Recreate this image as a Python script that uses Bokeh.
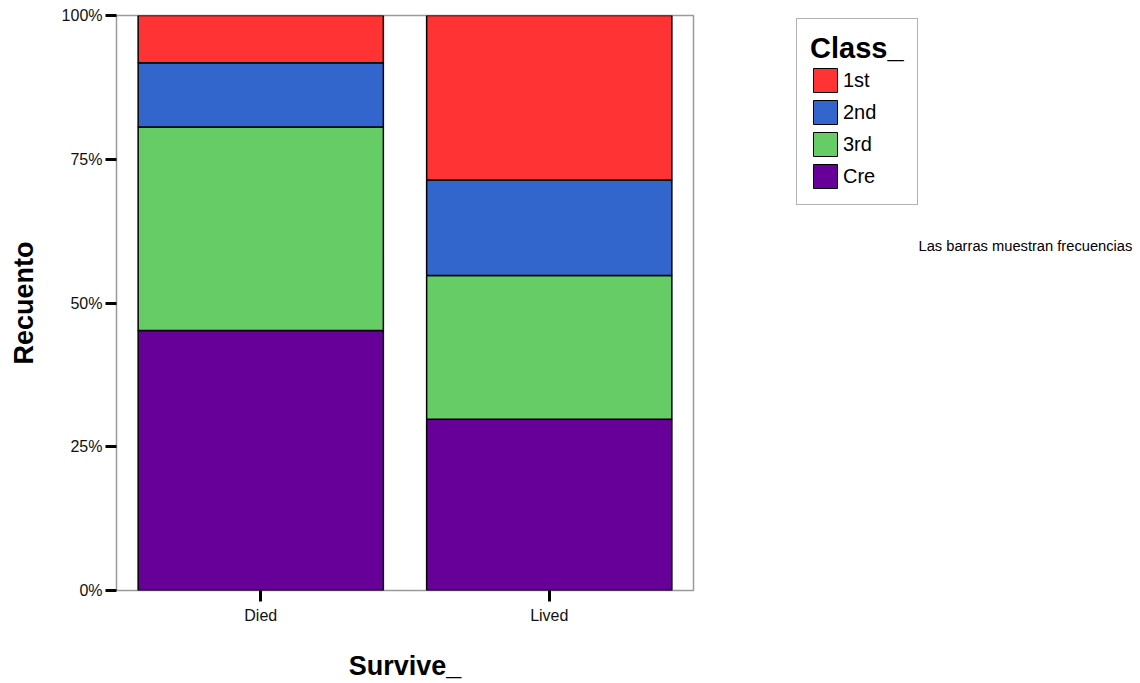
from bokeh.plotting import figure
from bokeh.layouts import row
from bokeh.models import (ColumnDataSource, Range1d, FactorRange, FixedTicker,
                          PrintfTickFormatter, Legend, LegendItem, Label)
from bokeh.embed import file_html
from bokeh.resources import INLINE

# Data (percent of each survival group)
groups = ["Died", "Lived"]
classes = ["1st", "2nd", "3rd", "Cre"]
pct_1st = [8.2, 28.6]
pct_2nd = [11.2, 16.6]
pct_3rd = [35.4, 25.0]
pct_cre = [45.2, 29.8]
y_ticks = [0, 25, 50, 75, 100]

colors = {"1st": "#FF3333", "2nd": "#3366CC", "3rd": "#66CC66", "Cre": "#660099"}

src = ColumnDataSource(dict(g=groups, c1=pct_1st, c2=pct_2nd, c3=pct_3rd, cre=pct_cre))

FONT = "Liberation Sans"
H = 683

p = figure(x_range=FactorRange(*groups, range_padding=0), y_range=Range1d(0, 100),
           width=700, height=H, output_backend="svg", toolbar_location=None,
           min_border_left=116, min_border_top=15, min_border_bottom=93, min_border_right=7)

stack_keys = ["cre", "c3", "c2", "c1"]
stack_cols = [colors["Cre"], colors["3rd"], colors["2nd"], colors["1st"]]
rs = p.vbar_stack(stack_keys, x="g", width=0.85, source=src, color=stack_cols,
                  line_color="black", line_width=1.5)

p.xgrid.visible = False
p.ygrid.visible = False
p.outline_line_color = "#9a9a9a"
p.outline_line_width = 1.5
p.background_fill_color = "white"
p.border_fill_color = "white"

for ax in (p.xaxis[0], p.yaxis[0]):
    ax.axis_line_color = None
    ax.major_tick_line_color = "black"
    ax.major_tick_line_width = 3
    ax.major_tick_in = 0
    ax.major_tick_out = 11
    ax.minor_tick_line_color = None
    ax.major_label_text_font = FONT
    ax.major_label_text_font_size = "16px"
    ax.major_label_text_color = "#111111"
    ax.axis_label_text_font = FONT
    ax.axis_label_text_font_size = "27px"
    ax.axis_label_text_font_style = "bold"
    ax.axis_label_text_color = "black"

p.yaxis[0].ticker = FixedTicker(ticks=y_ticks)
p.yaxis[0].formatter = PrintfTickFormatter(format="%d%%")
p.yaxis[0].major_label_standoff = 3
p.yaxis[0].axis_label = "Recuento"
p.yaxis[0].axis_label_standoff = 20

p.xaxis[0].axis_label = "Survive_"
p.xaxis[0].major_label_standoff = 5
p.xaxis[0].axis_label_standoff = 24

# Side panel holding legend and note (frame aligned with the main frame: y 15..590)
q = figure(x_range=Range1d(0, 1), y_range=Range1d(0, 1), width=440, height=H,
           output_backend="svg", toolbar_location=None,
           min_border_left=0, min_border_right=0, min_border_top=15, min_border_bottom=93)
q.axis.visible = False
q.grid.visible = False
q.outline_line_color = None

# legend proxies: tiny swatches hidden underneath the (opaque) legend box
dummy = []
for k in classes:
    r = q.vbar(x=[0.35], top=[0.7], bottom=[0.695], width=0.005, fill_color=colors[k],
               line_color="black", line_width=1)
    dummy.append(r)

items = [LegendItem(label=k, renderers=[r]) for k, r in zip(classes, dummy)]
legend = Legend(items=items, title="Class_", location=(96, 385),
                title_text_font=FONT, title_text_font_size="29px", title_text_font_style="bold",
                title_text_color="black", title_standoff=0,
                label_text_font=FONT, label_text_font_size="20px", label_text_color="black",
                glyph_width=30, glyph_height=30, label_standoff=3, spacing=2, padding=13,
                border_line_color="#666666", border_line_width=1.5,
                background_fill_color="white", background_fill_alpha=1,
                margin=0)
q.add_layout(legend, "center")

note = Label(x=218, y=345, x_units="screen", y_units="screen",
             text="Las barras muestran frecuencias", text_font=FONT,
             text_font_size="14.7px", text_color="black", text_baseline="middle")
q.add_layout(note)

layout = row(p, q, spacing=0)
open("out.html", "w").write(file_html(layout, INLINE))
